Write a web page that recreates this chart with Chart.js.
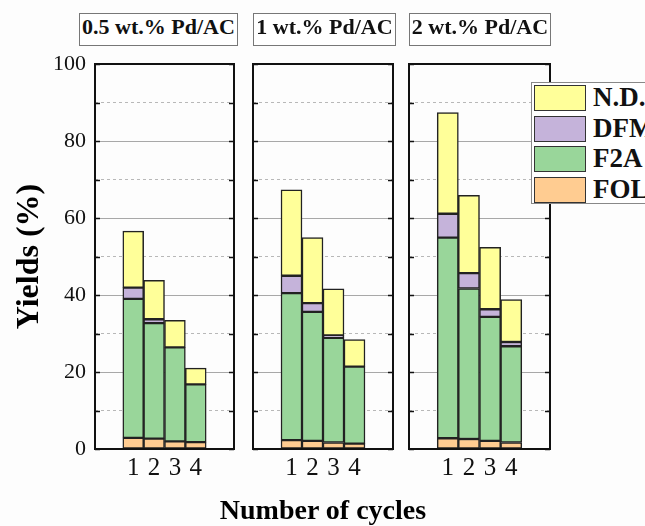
<!DOCTYPE html>
<html>
<head>
<meta charset="utf-8">
<script src="https://cdn.jsdelivr.net/npm/chart.js@4.4.1/dist/chart.umd.min.js"></script>
<style>
  html, body { margin: 0; padding: 0; background: #fdfdfd; overflow: hidden; }
  #wrap { position: relative; width: 645px; height: 526px; }
  canvas { position: absolute; top: 0; }
  .ptitle {
    position: absolute; top: 13px; height: 31px; line-height: 31px;
    border: 1px solid #777; background: #fff; text-align: center;
    font: bold 22px "Liberation Serif", serif; color: #111; z-index: 2;
  }
  #xtitle {
    position: absolute; left: 173px; width: 300px; top: 494px; line-height: 28px;
    text-align: center; font: bold 28px "Liberation Serif", serif; color: #000;
  }
  #legend {
    position: absolute; left: 531px; top: 82px; width: 130px; height: 120px;
    border: 1px solid #888; background: #fff; z-index: 3;
  }
  .lrow { position: absolute; left: 2px; height: 27px; }
  .sw { position: absolute; left: 0; top: 0; width: 50px; height: 24px; border: 1.5px solid #333; }
  .lt { position: absolute; left: 59px; top: -3px; font: bold 27px "Liberation Serif", serif; color: #111; white-space: nowrap; }
</style>
</head>
<body>
<div id="wrap"></div>
<script>
// cycle numbers on the x axis
const cycles = [1, 2, 3, 4];
const catalysts = ["0.5 wt.% Pd/AC", "1 wt.% Pd/AC", "2 wt.% Pd/AC"];

// yields (%) per catalyst, per cycle
const folYield = [[2.9, 2.7, 2.0, 1.8], [2.3, 2.1, 1.7, 1.4], [2.8, 2.6, 2.1, 1.7]];
const f2aYield = [[36.1, 30.0, 24.4, 15.0], [38.2, 33.5, 27.2, 20.0], [52.1, 39.1, 32.2, 25.0]];
const dfmYield = [[2.9, 1.0, 0, 0], [4.5, 2.3, 0.6, 0], [6.2, 4.0, 2.0, 1.1]];
const ndYield = [[14.7, 10.1, 7.0, 4.2], [22.3, 17.0, 12.1, 7.0], [26.3, 20.2, 16.1, 11.0]];

const seriesNames = ["FOL", "F2A", "DFM", "N.D."];
const seriesColors = ["#ffcc91", "#99d69a", "#c5b3da", "#ffff99"];
const seriesData = [folYield, f2aYield, dfmYield, ndYield];

const majorTicks = [0, 20, 40, 60, 80, 100];
const minorTicks = [10, 30, 50, 70, 90];

// panel placement (plot area left / right in px)
const panels = [
    { left: 95, right: 234, boxLeft: 79, boxRight: 236 },
    { left: 253, right: 393, boxLeft: 253, boxRight: 394 },
    { left: 409, right: 550, boxLeft: 409, boxRight: 549 }
];
const plotTop = 64, plotBottom = 449, H = 526;
const serif = "'Liberation Serif', 'Times New Roman', serif";

// frame around each panel + inward tick marks
const framePlugin = {
    id: "frame",
    afterDraw(chart) {
        const { ctx, chartArea: a, scales } = chart;
        ctx.save();
        ctx.strokeStyle = "#111";
        ctx.lineWidth = 1.5;
        [...majorTicks, ...minorTicks].forEach(v => {
            const y = Math.round(scales.y.getPixelForValue(v)) + 0.5;
            ctx.beginPath();
            ctx.moveTo(a.left, y); ctx.lineTo(a.left + 5, y);
            ctx.moveTo(a.right, y); ctx.lineTo(a.right - 5, y);
            ctx.stroke();
        });
        ctx.lineWidth = 2;
        ctx.strokeRect(a.left, a.top, a.right - a.left, a.bottom - a.top);
        ctx.restore();
    }
};

const wrap = document.getElementById("wrap");

panels.forEach((p, i) => {
    const first = i === 0;
    const yWidth = first ? 95 : 0;
    const padL = first ? 0 : 4;
    const padR = 4;
    const canvasLeft = p.left - yWidth - padL;
    const width = (p.right - p.left) + yWidth + padL + padR;

    const c = document.createElement("canvas");
    c.width = width; c.height = H;
    c.style.left = canvasLeft + "px";
    c.style.width = width + "px"; c.style.height = H + "px";
    wrap.appendChild(c);

    const t = document.createElement("div");
    t.className = "ptitle";
    t.textContent = catalysts[i];
    t.style.left = p.boxLeft + "px";
    t.style.width = (p.boxRight - p.boxLeft) + "px";
    wrap.appendChild(t);

    new Chart(c.getContext("2d"), {
        type: "bar",
        data: {
            datasets: seriesNames.map((name, s) => ({
                label: name,
                data: cycles.map((x, k) => ({ x: x, y: seriesData[s][i][k] })),
                backgroundColor: seriesColors[s],
                borderColor: "#222",
                borderWidth: 1.5,
                borderSkipped: false,
                barPercentage: 1,
                categoryPercentage: 1
            }))
        },
        options: {
            responsive: false,
            animation: false,
            devicePixelRatio: 1,
            layout: { padding: { top: plotTop, left: padL, right: padR, bottom: 0 } },
            plugins: { legend: { display: false }, tooltip: { enabled: false } },
            scales: {
                x: {
                    type: "linear",
                    min: 0, max: 5,
                    stacked: true,
                    afterBuildTicks: s => { s.ticks = cycles.map(v => ({ value: v })); },
                    afterFit: s => { s.height = H - plotBottom; },
                    grid: { display: false, drawTicks: false },
                    border: { display: false },
                    ticks: { color: "#111", font: { family: serif, size: 25 }, padding: 4 }
                },
                y: {
                    min: 0, max: 100,
                    stacked: true,
                    afterBuildTicks: s => { s.ticks = majorTicks.map(v => ({ value: v })); },
                    afterFit: s => { s.width = yWidth; },
                    grid: { color: "#a8a8a8", lineWidth: 1, drawTicks: false },
                    border: { display: false },
                    ticks: { display: first, color: "#111", font: { family: serif, size: 22 }, padding: 9 },
                    title: {
                        display: first,
                        text: "Yields (%)",
                        color: "#000",
                        font: { family: serif, size: 32, weight: "bold" },
                        padding: { top: 11, bottom: 0 }
                    }
                },
                y2: {
                    position: "left",
                    min: 0, max: 100,
                    afterBuildTicks: s => { s.ticks = minorTicks.map(v => ({ value: v })); },
                    afterFit: s => { s.width = 0; },
                    grid: { color: "#b8b8b8", lineWidth: 1, drawTicks: false },
                    border: { display: false, dash: [3, 3] },
                    ticks: { display: false }
                }
            }
        },
        plugins: [framePlugin]
    });
});

const xt = document.createElement("div");
xt.id = "xtitle";
xt.textContent = "Number of cycles";
wrap.appendChild(xt);

// legend, top to bottom: N.D., DFM, F2A, FOL
const legend = document.createElement("div");
legend.id = "legend";
[3, 2, 1, 0].forEach((s, r) => {
    const row = document.createElement("div");
    row.className = "lrow";
    row.style.top = (2 + r * 30.5) + "px";
    row.innerHTML = '<div class="sw" style="background:' + seriesColors[s] + '"></div><div class="lt">' + seriesNames[s] + "</div>";
    legend.appendChild(row);
});
wrap.appendChild(legend);
</script>
</body>
</html>
